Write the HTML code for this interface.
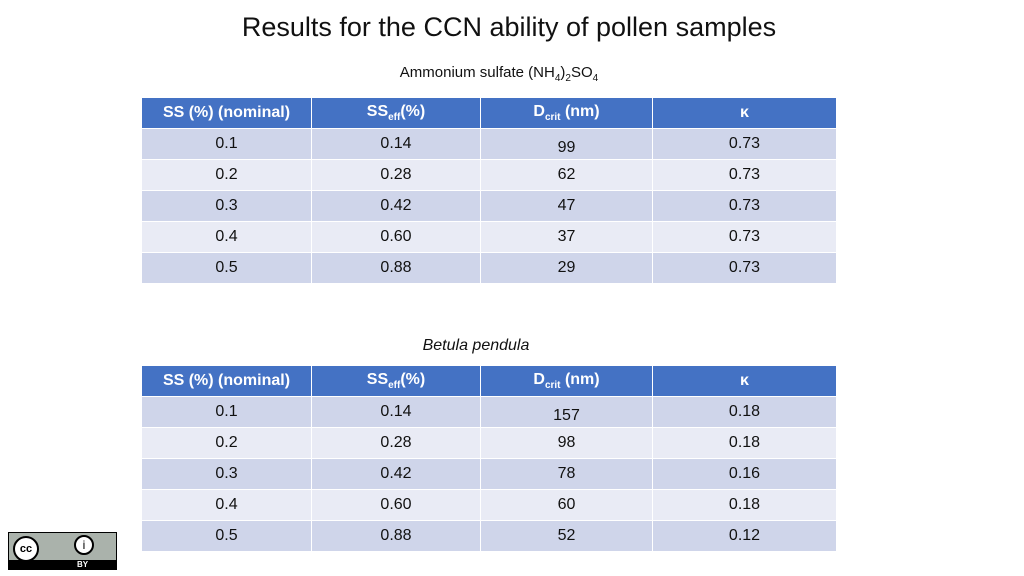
<!DOCTYPE html>
<html><head><meta charset="utf-8"><style>
body{margin:0;width:1024px;height:576px;background:#fff;font-family:"Liberation Sans",sans-serif;position:relative;overflow:hidden}
.t{position:absolute;white-space:nowrap}
table{position:absolute;left:141px;border-collapse:collapse;table-layout:fixed;width:695px}
td,th{height:31px;padding:0;text-align:center;font-size:16px;color:#111;border:1px solid #fff;box-sizing:border-box}
th{background:#4472C4;color:#fff;font-weight:bold;font-size:16px}
tr.o td{background:#CFD5EA}tr.e td{background:#E9EBF5}
sub{font-size:10px}
</style></head><body>
<div class="t" style="left:0;width:1018px;top:12px;text-align:center;font-size:27px;color:#111">Results for the CCN ability of pollen samples</div>
<div class="t" style="left:0;width:998px;top:64px;text-align:center;font-size:15px;color:#111">Ammonium sulfate (NH<sub>4</sub>)<sub>2</sub>SO<sub>4</sub></div>
<table style="top:97px">
<colgroup><col style="width:170px"><col style="width:169px"><col style="width:172px"><col style="width:184px"></colgroup>
<tr><th>SS (%) (nominal)</th><th>SS<sub>eff</sub>(%)</th><th>D<sub>crit</sub> (nm)</th><th>κ</th></tr>
<tr class="o"><td>0.1</td><td>0.14</td><td style="padding-top:8px">99</td><td>0.73</td></tr>
<tr class="e"><td>0.2</td><td>0.28</td><td>62</td><td>0.73</td></tr>
<tr class="o"><td>0.3</td><td>0.42</td><td>47</td><td>0.73</td></tr>
<tr class="e"><td>0.4</td><td>0.60</td><td>37</td><td>0.73</td></tr>
<tr class="o"><td>0.5</td><td>0.88</td><td>29</td><td>0.73</td></tr>
</table>
<div class="t" style="left:0;width:952px;top:337px;text-align:center;font-size:16px;font-style:italic;color:#111">Betula pendula</div>
<table style="top:365px">
<colgroup><col style="width:170px"><col style="width:169px"><col style="width:172px"><col style="width:184px"></colgroup>
<tr><th>SS (%) (nominal)</th><th>SS<sub>eff</sub>(%)</th><th>D<sub>crit</sub> (nm)</th><th>κ</th></tr>
<tr class="o"><td>0.1</td><td>0.14</td><td style="padding-top:8px">157</td><td>0.18</td></tr>
<tr class="e"><td>0.2</td><td>0.28</td><td>98</td><td>0.18</td></tr>
<tr class="o"><td>0.3</td><td>0.42</td><td>78</td><td>0.16</td></tr>
<tr class="e"><td>0.4</td><td>0.60</td><td>60</td><td>0.18</td></tr>
<tr class="o"><td>0.5</td><td>0.88</td><td>52</td><td>0.12</td></tr>
</table>
<div style="position:absolute;left:8px;top:532px;width:109px;height:38px;background:#aab2ab;border:1px solid #000;box-sizing:border-box">
<div style="position:absolute;left:0;right:0;bottom:0;height:9px;background:#000;color:#fff;font-size:8px;font-weight:bold;text-align:center;line-height:9px;padding-left:40px">BY</div>
<div style="position:absolute;left:4px;top:3px;width:26px;height:26px;border-radius:50%;background:#fff;border:2px solid #000;box-sizing:border-box;font-size:11px;font-weight:bold;line-height:22px;text-align:center">cc</div>
<div style="position:absolute;left:65px;top:2px;width:20px;height:20px;border-radius:50%;background:#fff;border:2px solid #000;box-sizing:border-box;font-size:12px;line-height:16px;text-align:center">i</div>
</div>
</body></html>
